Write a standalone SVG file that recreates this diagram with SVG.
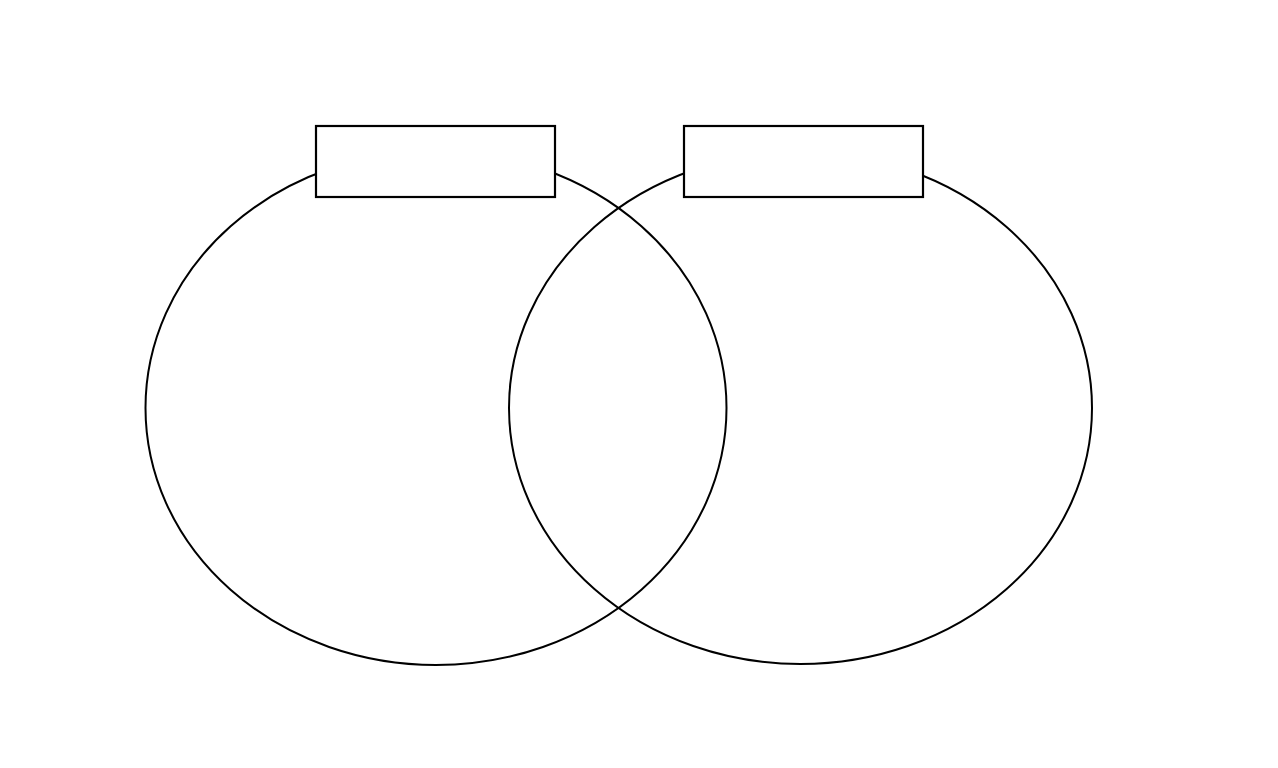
<svg xmlns="http://www.w3.org/2000/svg" width="1278" height="768" viewBox="0 0 1278 768">
<style>
.s{fill:none;stroke:#000;stroke-width:2}
.b{fill:#fff;stroke:#000;stroke-width:2.2}
</style>
<rect width="1278" height="768" fill="#fff"/>
<g id="circle-left"><ellipse class="s" cx="436" cy="408" rx="290.5" ry="257"/></g>
<g id="circle-right"><ellipse class="s" cx="800.5" cy="408" rx="291.5" ry="256"/></g>
<g id="label-left"><rect class="b" x="316" y="126" width="239" height="71"/></g>
<g id="label-right"><rect class="b" x="684" y="126" width="239" height="71"/></g>
<g id="connectors"></g>
</svg>
